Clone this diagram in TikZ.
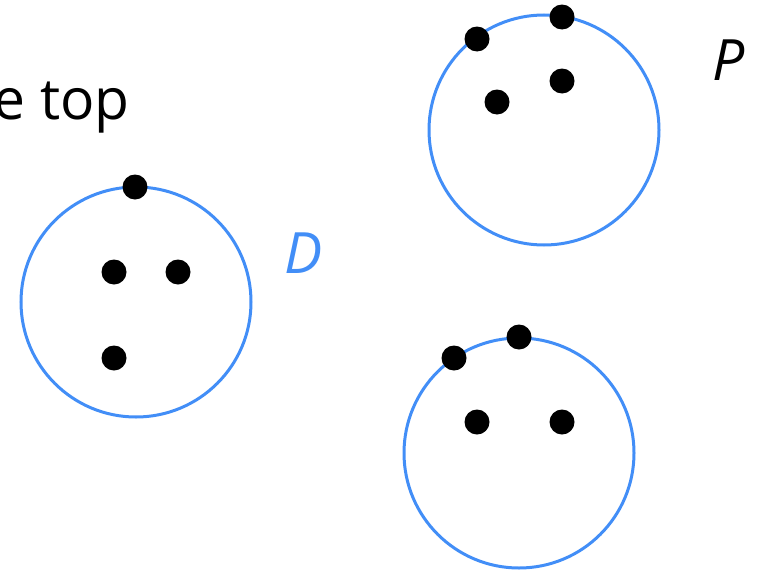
\documentclass[tikz,border=0pt]{standalone}
\usepackage{fontspec}
\setmainfont{Open Sans}
\usepackage{xcolor}
\usetikzlibrary{positioning}
\definecolor{setblue}{RGB}{66,142,247}

\begin{document}
\begin{tikzpicture}[x=1pt, y=-1pt,
    set/.style={circle, draw=setblue, line width=3pt, minimum size=230pt, inner sep=0pt},
    pt/.style={circle, fill=black, minimum size=25pt, inner sep=0pt},
    big/.style={font=\fontsize{57}{60}\selectfont},
    lab/.style={font=\fontsize{57}{60}\selectfont\itshape}]
  \useasboundingbox (0,0) rectangle (765,570);

  % text cut at the left edge
  \node[big, anchor=base east, inner sep=0pt] (txt) at (130,119) {e top};

  % set D
  \node[set] (setD) at (136,302) {};
  \node[lab, text=setblue] (labD) at (304,253) {D};
  \node[pt] (d1) at (135,187) {};
  \node[pt] (d2) at (114,272) {};
  \node[pt] (d3) at (178,272) {};
  \node[pt] (d4) at (114,358) {};

  % set P
  \node[set] (setP) at (544,130) {};
  \node[lab] (labP) at (729,60) {P};
  \node[pt] (p1) at (562,17) {};
  \node[pt] (p2) at (477,39) {};
  \node[pt] (p3) at (562,81) {};
  \node[pt] (p4) at (497,102) {};

  % third set
  \node[set] (setQ) at (519,453) {};
  \node[pt] (q1) at (519,337) {};
  \node[pt] (q2) at (454,358) {};
  \node[pt] (q3) at (477,422) {};
  \node[pt] (q4) at (562,422) {};
\end{tikzpicture}
\end{document}
